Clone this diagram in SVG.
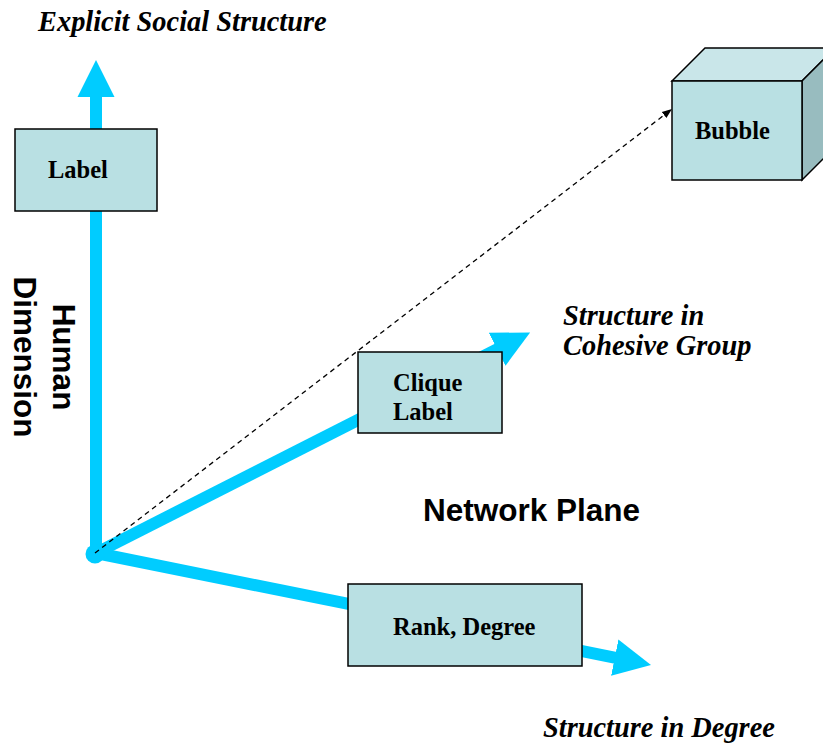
<svg xmlns="http://www.w3.org/2000/svg" width="823" height="744" viewBox="0 0 823 744">
<style>
  .axis { stroke: #00ccff; stroke-width: 12; fill: none; }
  .box { fill: #b9e0e3; stroke: #000; stroke-width: 1.5; }
  .bt { font-family: "Liberation Serif", "Times New Roman", serif; font-weight: bold; font-size: 24.5px; fill: #000; }
  .it { font-family: "Liberation Serif", "Times New Roman", serif; font-weight: bold; font-style: italic; font-size: 28.4px; fill: #000; }
  .ss { font-family: "Liberation Sans", Arial, sans-serif; font-weight: bold; font-size: 31.5px; fill: #000; }
</style>
<defs>
  <marker id="bigArrow" markerUnits="userSpaceOnUse" markerWidth="40" markerHeight="40" viewBox="0 -20 40 40" refX="1" refY="0" orient="auto">
    <path d="M0,-18.5 L37,0 L0,18.5 Z" fill="#00ccff"/>
  </marker>
  <marker id="smallArrow" markerUnits="userSpaceOnUse" markerWidth="12" markerHeight="10" viewBox="0 -5 12 10" refX="10" refY="0" orient="auto">
    <path d="M0,-3.8 L10,0 L0,3.8 Z" fill="#000"/>
  </marker>
</defs>
<g id="connectors">
  <line class="axis" x1="96" y1="553" x2="96" y2="96" marker-end="url(#bigArrow)"/>
  <line class="axis" x1="96" y1="553" x2="498" y2="348.8" marker-end="url(#bigArrow)"/>
  <line class="axis" x1="96" y1="553" x2="615.7" y2="657.8" marker-end="url(#bigArrow)"/>
  <circle cx="95" cy="554" r="9.5" fill="#00ccff"/>
  <line x1="95" y1="553" x2="672" y2="109" stroke="#000" stroke-width="1.3" stroke-dasharray="5,4" marker-end="url(#smallArrow)"/>
</g>
<g id="label-node">
  <rect class="box" x="15" y="129" width="142" height="82"/>
  <text class="bt" x="48" y="178">Label</text>
</g>
<g id="bubble-node">
  <polygon points="672,81 705,48 835,48 802,81" fill="#c9e6e9" stroke="#000" stroke-width="1.5"/>
  <polygon points="802,81 835,48 835,147 802,180" fill="#98bcbf" stroke="#000" stroke-width="1.5"/>
  <rect class="box" x="672" y="81" width="130" height="99"/>
  <text class="bt" x="695" y="139">Bubble</text>
</g>
<g id="clique-node">
  <rect class="box" x="358" y="352" width="144" height="81"/>
  <text class="bt" x="393" y="391">Clique</text>
  <text class="bt" x="393" y="420">Label</text>
</g>
<g id="rank-node">
  <rect class="box" x="348" y="584" width="234" height="82"/>
  <text class="bt" x="393" y="635">Rank, Degree</text>
</g>
<g id="labels">
  <text class="it" x="38" y="31">Explicit Social Structure</text>
  <text class="it" x="563" y="325">Structure in</text>
  <text class="it" x="563" y="355">Cohesive Group</text>
  <text class="it" x="543" y="737">Structure in Degree</text>
  <text class="ss" x="423" y="521">Network Plane</text>
  <text class="ss" transform="translate(53,357) rotate(90)" text-anchor="middle">Human</text>
  <text class="ss" transform="translate(14,357) rotate(90)" text-anchor="middle">Dimension</text>
</g>
</svg>
